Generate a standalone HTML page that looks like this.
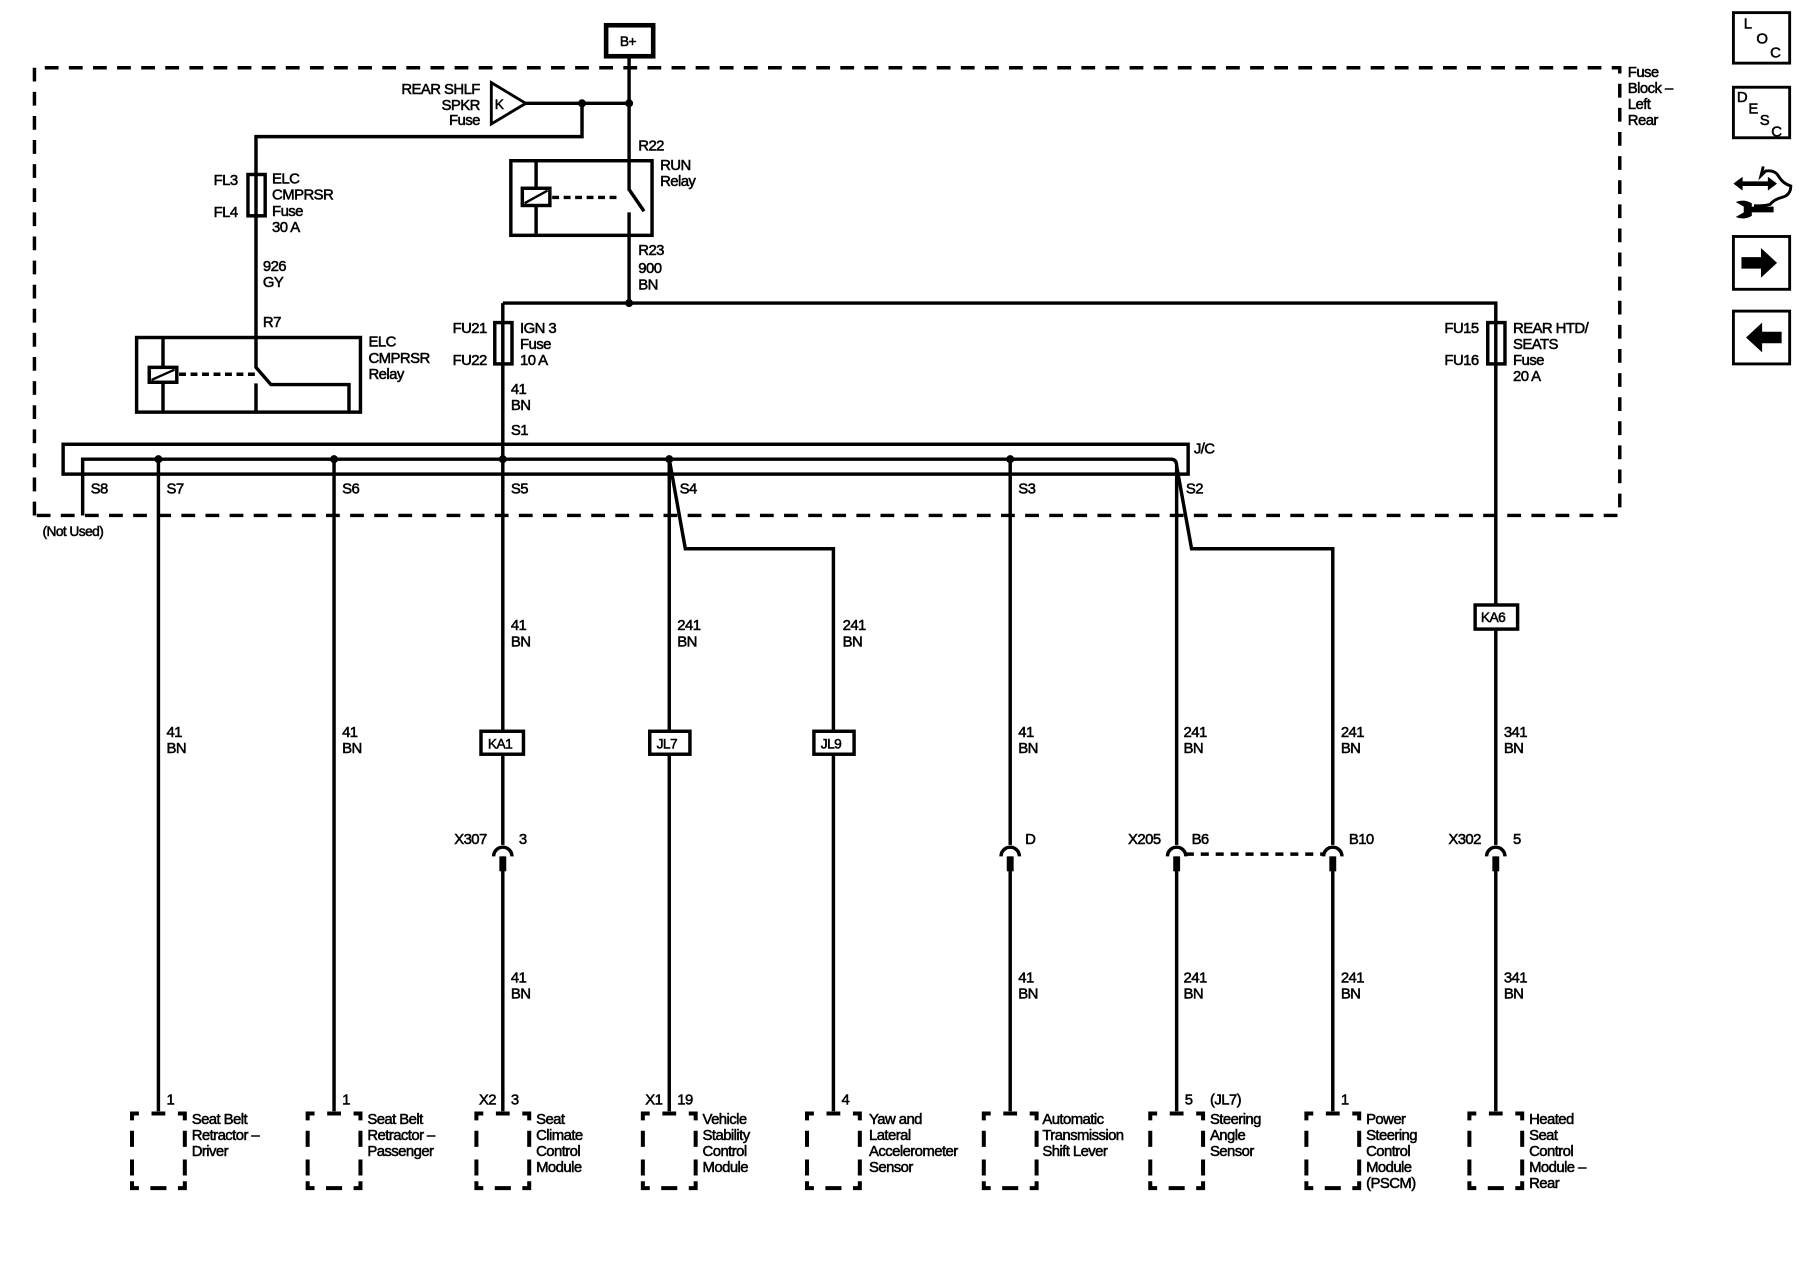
<!DOCTYPE html>
<html><head><meta charset="utf-8"><style>
html,body{margin:0;padding:0;background:#fff;}
svg{display:block;}
text{font-family:"Liberation Sans",sans-serif;font-size:13px;letter-spacing:-0.5px;fill:#000;stroke:#000;stroke-width:0.45;}
</style></head><body>
<svg width="1800" height="1280" viewBox="0 0 1568 1115" preserveAspectRatio="none" xmlns="http://www.w3.org/2000/svg">
<defs>
<g id="conn">
<path d="M-8,746 A8,8 0 0 1 8,746" fill="none" stroke="#000" stroke-width="3"/>
<rect x="-3" y="746" width="6" height="13" fill="#000"/>
</g>
<g id="box" fill="none" stroke="#000" stroke-width="3.5">
<path d="M-23,976 V970 H-17 M-6,970 H6 M17,970 H23 V976 M-23,985 V999 M-23,1010 V1024 M23,985 V999 M23,1010 V1024 M-23,1029 V1035 H-17 M-7,1035 H7 M17,1035 H23 V1029"/>
</g>
</defs>
<g fill="none" stroke="#000">
<path d="M30,449 V59 H1411 V449 Z" stroke-width="3" stroke-dasharray="12,9"/>
<rect x="528" y="22" width="41" height="27" stroke-width="4"/>
<line x1="548" y1="49" x2="548" y2="264" stroke-width="3"/>
<path d="M428,72 L458,90 L428,108 Z" stroke-width="2.5"/>
<path d="M458,90 H548 M507,90 V119 H223 V293" stroke-width="3"/>
<rect x="216" y="152" width="15" height="36" stroke-width="3"/>
<rect x="119" y="294" width="195" height="65" stroke-width="3"/>
<line x1="142" y1="294" x2="142" y2="359" stroke-width="3"/>
<rect x="130" y="320" width="24" height="13" stroke-width="3" fill="#fff"/>
<line x1="132" y1="331" x2="152" y2="322" stroke-width="2"/>
<line x1="156" y1="326" x2="222" y2="326" stroke-width="3" stroke-dasharray="6,4"/>
<path d="M223,293 V320 L236,335 H304 V359 M223,334 V359" stroke-width="3"/>
<rect x="445" y="140" width="123" height="65" stroke-width="3"/>
<line x1="467" y1="140" x2="467" y2="205" stroke-width="3"/>
<rect x="455" y="164" width="24" height="15" stroke-width="3" fill="#fff"/>
<line x1="457" y1="177" x2="477" y2="166" stroke-width="2"/>
<line x1="481" y1="172" x2="546" y2="172" stroke-width="3" stroke-dasharray="6,4"/>
<rect x="540" y="166" width="16" height="19" fill="#fff" stroke="none"/>
<line x1="548" y1="165" x2="561" y2="184" stroke-width="3"/>
<path d="M438,264 H1303 V968" stroke-width="3"/>
<line x1="438" y1="264" x2="438" y2="968" stroke-width="3"/>
<rect x="431" y="281" width="15" height="36" stroke-width="3" fill="#fff"/>
<line x1="438" y1="281" x2="438" y2="317" stroke-width="3"/>
<rect x="1296" y="281" width="15" height="36" stroke-width="3" fill="#fff"/>
<line x1="1303" y1="281" x2="1303" y2="317" stroke-width="3"/>
<rect x="55" y="387" width="980" height="26" stroke-width="3"/>
<path d="M72,449 V400 H1020 Q1025,400 1025,406 V968" stroke-width="3"/>
<path d="M1025,406 L1038,478 H1161 V968" stroke-width="3"/>
<path d="M583,400 L597,478 H726 V968" stroke-width="3"/>
<line x1="138" y1="400" x2="138" y2="968" stroke-width="3"/>
<line x1="291" y1="400" x2="291" y2="968" stroke-width="3"/>
<line x1="583" y1="400" x2="583" y2="968" stroke-width="3"/>
<line x1="880" y1="400" x2="880" y2="968" stroke-width="3"/>
<line x1="1033" y1="744" x2="1153" y2="744" stroke-width="3" stroke-dasharray="7,6"/>
</g>
<g fill="#000">
<circle cx="507" cy="90" r="3.5"/><circle cx="548" cy="90" r="3.5"/><circle cx="548" cy="264" r="3.5"/>
<circle cx="138" cy="400" r="3.5"/><circle cx="291" cy="400" r="3.5"/><circle cx="438" cy="400" r="3.5"/>
<circle cx="583" cy="400" r="3.5"/><circle cx="880" cy="400" r="3.5"/>
</g>
<g fill="#fff" stroke="#000" stroke-width="3">
<rect x="419" y="637" width="37" height="20"/>
<rect x="566" y="637" width="35" height="20"/>
<rect x="709" y="637" width="35" height="20"/>
<rect x="1285" y="527" width="37" height="21"/>
</g>
<g fill="#fff" stroke="none">
<rect x="432" y="736" width="12" height="10"/><rect x="874" y="736" width="12" height="10"/>
<rect x="1019" y="736" width="12" height="10"/><rect x="1155" y="736" width="12" height="10"/>
<rect x="1297" y="736" width="12" height="10"/>
</g>
<use href="#conn" x="438"/><use href="#conn" x="880"/><use href="#conn" x="1025"/><use href="#conn" x="1161"/><use href="#conn" x="1303"/>
<use href="#box" x="138"/><use href="#box" x="291"/><use href="#box" x="438"/><use href="#box" x="583"/><use href="#box" x="726"/><use href="#box" x="880"/><use href="#box" x="1025"/><use href="#box" x="1161"/><use href="#box" x="1303"/>

<text x="540" y="40" style="font-size:12px">B+</text>
<g text-anchor="end"><text x="418" y="82">REAR SHLF</text><text x="418" y="96">SPKR</text><text x="418" y="109">Fuse</text>
<text x="207" y="161">FL3</text><text x="207" y="189">FL4</text>
<text x="424" y="290">FU21</text><text x="424" y="318">FU22</text>
<text x="1288" y="290">FU15</text><text x="1288" y="318">FU16</text>
<text x="424" y="735">X307</text><text x="1011" y="735">X205</text><text x="1290" y="735">X302</text>
<text x="432" y="962">X2</text><text x="577" y="962">X1</text>
</g>
<text x="431" y="95" style="font-size:12px">K</text>
<text x="237" y="160">ELC</text><text x="237" y="174">CMPRSR</text><text x="237" y="188">Fuse</text><text x="237" y="202">30 A</text>
<text x="229" y="236">926</text><text x="229" y="250">GY</text>
<text x="229" y="285">R7</text>
<text x="321" y="302">ELC</text><text x="321" y="316">CMPRSR</text><text x="321" y="330">Relay</text>
<text x="556" y="131">R22</text><text x="575" y="148">RUN</text><text x="575" y="162">Relay</text>
<text x="556" y="222">R23</text><text x="556" y="238">900</text><text x="556" y="252">BN</text>
<text x="453" y="290">IGN 3</text><text x="453" y="304">Fuse</text><text x="453" y="318">10 A</text>
<text x="1318" y="290">REAR HTD/</text><text x="1318" y="304">SEATS</text><text x="1318" y="318">Fuse</text><text x="1318" y="332">20 A</text>
<text x="445" y="343">41</text><text x="445" y="357">BN</text><text x="445" y="379">S1</text>
<text x="1040" y="395">J/C</text>
<text x="1418" y="67">Fuse</text><text x="1418" y="81">Block –</text><text x="1418" y="95">Left</text><text x="1418" y="109">Rear</text>
<text x="79" y="430">S8</text><text x="145" y="430">S7</text><text x="298" y="430">S6</text><text x="445" y="430">S5</text><text x="592" y="430">S4</text><text x="887" y="430">S3</text><text x="1033" y="430">S2</text>
<text x="37" y="467" style="font-size:12px">(Not Used)</text>
<text x="1290" y="542" style="font-size:12px">KA6</text>
<text x="425" y="652" style="font-size:12px">KA1</text>
<text x="572" y="652" style="font-size:12px">JL7</text>
<text x="715" y="652" style="font-size:12px">JL9</text>
<text x="445" y="549">41</text><text x="445" y="563">BN</text>
<text x="590" y="549">241</text><text x="590" y="563">BN</text>
<text x="734" y="549">241</text><text x="734" y="563">BN</text>
<text x="145" y="642">41</text><text x="145" y="656">BN</text>
<text x="298" y="642">41</text><text x="298" y="656">BN</text>
<text x="887" y="642">41</text><text x="887" y="656">BN</text>
<text x="1031" y="642">241</text><text x="1031" y="656">BN</text>
<text x="1168" y="642">241</text><text x="1168" y="656">BN</text>
<text x="1310" y="642">341</text><text x="1310" y="656">BN</text>
<text x="445" y="856">41</text><text x="445" y="870">BN</text>
<text x="887" y="856">41</text><text x="887" y="870">BN</text>
<text x="1031" y="856">241</text><text x="1031" y="870">BN</text>
<text x="1168" y="856">241</text><text x="1168" y="870">BN</text>
<text x="1310" y="856">341</text><text x="1310" y="870">BN</text>
<text x="452" y="735">3</text><text x="893" y="735">D</text><text x="1038" y="735">B6</text><text x="1175" y="735">B10</text><text x="1318" y="735">5</text>
<text x="145" y="962">1</text><text x="298" y="962">1</text><text x="445" y="962">3</text><text x="590" y="962">19</text><text x="733" y="962">4</text><text x="1032" y="962">5</text><text x="1054" y="962">(JL7)</text><text x="1168" y="962">1</text>
<text x="167" y="979">Seat Belt</text><text x="167" y="993">Retractor –</text><text x="167" y="1007">Driver</text>
<text x="320" y="979">Seat Belt</text><text x="320" y="993">Retractor –</text><text x="320" y="1007">Passenger</text>
<text x="467" y="979">Seat</text><text x="467" y="993">Climate</text><text x="467" y="1007">Control</text><text x="467" y="1021">Module</text>
<text x="612" y="979">Vehicle</text><text x="612" y="993">Stability</text><text x="612" y="1007">Control</text><text x="612" y="1021">Module</text>
<text x="757" y="979">Yaw and</text><text x="757" y="993">Lateral</text><text x="757" y="1007">Accelerometer</text><text x="757" y="1021">Sensor</text>
<text x="908" y="979">Automatic</text><text x="908" y="993">Transmission</text><text x="908" y="1007">Shift Lever</text>
<text x="1054" y="979">Steering</text><text x="1054" y="993">Angle</text><text x="1054" y="1007">Sensor</text>
<text x="1190" y="979">Power</text><text x="1190" y="993">Steering</text><text x="1190" y="1007">Control</text><text x="1190" y="1021">Module</text><text x="1190" y="1035">(PSCM)</text>
<text x="1332" y="979">Heated</text><text x="1332" y="993">Seat</text><text x="1332" y="1007">Control</text><text x="1332" y="1021">Module –</text><text x="1332" y="1035">Rear</text>
<g fill="none" stroke="#000" stroke-width="2.5">
<rect x="1510" y="11" width="49" height="44"/>
<rect x="1510" y="76" width="49" height="44"/>
<rect x="1510" y="206" width="49" height="46"/>
<rect x="1510" y="271" width="49" height="46"/>
<path d="M1536,145 L1534,153 L1538,149 Q1546,148 1549,153 Q1553,160 1560,162 Q1560,170 1552,172 Q1545,174 1542,178 Q1535,180 1528,179" stroke-width="2.5"/>
</g>
<g style="font-size:11px">
<text x="1519" y="25">L</text><text x="1530" y="38">O</text><text x="1542" y="50">C</text>
<text x="1513" y="89">D</text><text x="1523" y="99">E</text><text x="1533" y="109">S</text><text x="1543" y="119">C</text>
</g>
<g fill="#000">
<path d="M1517,224 H1534 V216 L1548,229 L1534,242 V234 H1517 Z"/>
<path d="M1552,289 H1535 V281 L1521,294 L1535,307 V299 H1552 Z"/>
<path d="M1510,160 L1518,154 V158 H1540 V154 L1548,160 L1540,166 V162 H1518 V166 Z"/>
<path d="M1524,180 H1545 V185 H1524 Z"/>
<path d="M1512,176 Q1519,173 1526,177 V188 Q1519,192 1512,189 L1519,185 V180 Z"/>
</g>
</svg>
</body></html>
